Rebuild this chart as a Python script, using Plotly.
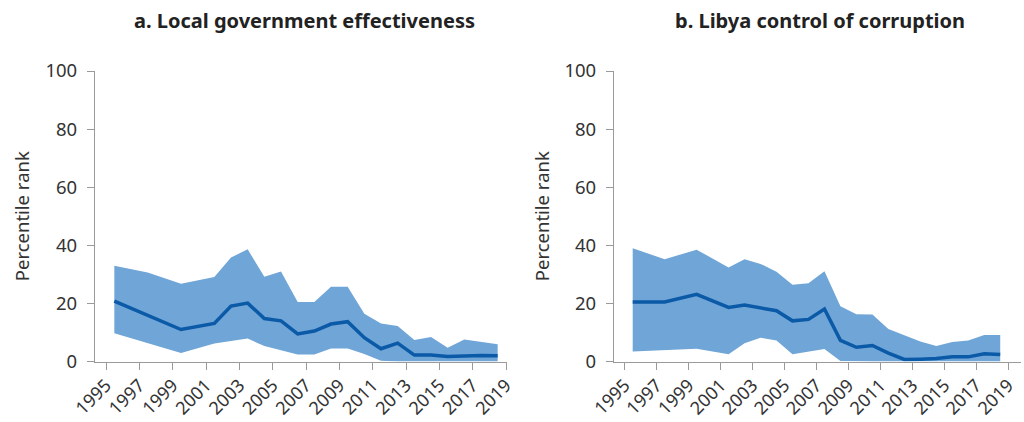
import plotly.graph_objects as go

years = [1996, 1998, 2000, 2002, 2003, 2004, 2005, 2006, 2007, 2008, 2009,
         2010, 2011, 2012, 2013, 2014, 2015, 2016, 2017, 2018, 2019]

# Panel a: Local government effectiveness (percentile rank)
gov_est = [20.8, 16.0, 11.0, 13.1, 19.1, 20.1, 14.8, 14.0, 9.5, 10.5, 12.9,
           13.7, 8.2, 4.4, 6.3, 2.2, 2.2, 1.7, 2.0, 2.1, 2.0]
gov_upper = [33.0, 30.6, 26.8, 29.1, 35.8, 38.6, 29.2, 31.0, 20.5, 20.5, 25.7,
             25.7, 16.4, 13.1, 12.2, 7.4, 8.4, 4.7, 7.6, 6.7, 5.9]
gov_lower = [9.7, 6.4, 2.9, 6.2, 7.0, 7.9, 5.3, 3.8, 2.4, 2.4, 4.5,
             4.5, 2.6, 0.3, 0.0, 0.0, 0.0, 0.0, 0.0, 0.0, 0.0]

# Panel b: Libya control of corruption (percentile rank)
cor_est = [20.5, 20.5, 23.1, 18.6, 19.4, 18.5, 17.5, 14.0, 14.5, 18.1, 7.3,
           4.9, 5.5, 2.9, 0.7, 0.8, 1.0, 1.6, 1.6, 2.7, 2.4]
cor_upper = [39.0, 35.2, 38.5, 32.4, 35.2, 33.6, 30.9, 26.4, 26.9, 31.1, 19.0,
             16.3, 16.2, 11.2, 9.0, 6.9, 5.3, 6.7, 7.2, 9.1, 9.1]
cor_lower = [3.4, 4.0, 4.4, 2.5, 6.3, 8.2, 7.2, 2.5, 3.4, 4.3, 0.2,
             0.0, 0.0, 0.0, 0.0, 0.0, 0.0, 0.0, 0.0, 0.0, 0.0]

tick_years = [1995, 1997, 1999, 2001, 2003, 2005, 2007, 2009, 2011, 2013, 2015, 2017, 2019]
y_ticks = [0, 20, 40, 60, 80, 100]

titles = ["a. Local government effectiveness", "b. Libya control of corruption"]
y_title = "Percentile rank"

BAND = "#6fa5d7"
LINE = "#0b5aa7"
AXIS = "#9a9a9a"
TEXT = "#333333"
FONT = "Noto Sans"
FS = 18.5

# full-window figure (the page's default body margin is removed below)
W, H, OFF = 1024, 422, 0


def px_x(X):
    return (X - OFF) / W


def px_y(Y):
    return (H - (Y - OFF)) / H


fig = go.Figure()

panels = [(gov_est, gov_upper, gov_lower, "x", "y"),
          (cor_est, cor_upper, cor_lower, "x2", "y2")]
for est, up, lo, xa, ya in panels:
    fig.add_trace(go.Scatter(x=years, y=lo, mode="lines", line=dict(width=0, color=BAND),
                             xaxis=xa, yaxis=ya, showlegend=False, hoverinfo="skip"))
    fig.add_trace(go.Scatter(x=years, y=up, mode="lines", line=dict(width=0, color=BAND),
                             fill="tonexty", fillcolor=BAND,
                             xaxis=xa, yaxis=ya, showlegend=False, hoverinfo="skip"))
    fig.add_trace(go.Scatter(x=years, y=est, mode="lines", line=dict(width=3.5, color=LINE),
                             xaxis=xa, yaxis=ya, showlegend=False))

ydom = [px_y(361.5), px_y(71)]
xaxis_common = dict(
    tickmode="array",
    tickvals=[t + 0.5 for t in tick_years],
    ticktext=[str(t) for t in tick_years],
    tickangle=-45,
    automargin=False,
    showline=True, linecolor=AXIS, linewidth=1.3,
    ticks="outside", ticklen=7, tickcolor=AXIS, tickwidth=1.3,
    ticklabelstandoff=-2,
    showgrid=False, zeroline=False,
    tickfont=dict(family=FONT, size=18, color=TEXT),
)
yaxis_common = dict(
    range=[0, 100],
    tickmode="array", tickvals=y_ticks,
    automargin=False,
    showline=True, linecolor=AXIS, linewidth=1.3,
    ticks="outside", ticklen=7, tickcolor=AXIS, tickwidth=1.3,
    ticklabelstandoff=6,
    showgrid=False, zeroline=False,
    tickfont=dict(family=FONT, size=FS, color=TEXT),
    domain=ydom,
)

ymid = (ydom[0] + ydom[1]) / 2
left_dom = [px_x(95), px_x(507)]
right_dom = [px_x(614), px_x(1021)]
fig.update_layout(
    width=W, height=H,
    margin=dict(l=0, r=0, t=0, b=0),
    paper_bgcolor="white", plot_bgcolor="white",
    xaxis=dict(domain=left_dom, range=[1994.84, 2019.56], anchor="y", **xaxis_common),
    yaxis=dict(anchor="x", **yaxis_common),
    xaxis2=dict(domain=right_dom, range=[1994.83, 2020.3], anchor="y2", **xaxis_common),
    yaxis2=dict(anchor="x2", **yaxis_common),
    annotations=[
        dict(text="<b>" + titles[0] + "</b>", x=sum(left_dom) / 2 + 3 / W, y=px_y(20),
             xref="paper", yref="paper", xanchor="center", yanchor="middle", showarrow=False,
             font=dict(family=FONT, size=20, color="#222222")),
        dict(text="<b>" + titles[1] + "</b>", x=sum(right_dom) / 2 + 2 / W, y=px_y(20),
             xref="paper", yref="paper", xanchor="center", yanchor="middle", showarrow=False,
             font=dict(family=FONT, size=20, color="#222222")),
        dict(text=y_title, x=px_x(21), y=ymid, textangle=-90,
             xref="paper", yref="paper", xanchor="center", yanchor="middle", showarrow=False,
             font=dict(family=FONT, size=FS, color=TEXT)),
        dict(text=y_title, x=px_x(541), y=ymid, textangle=-90,
             xref="paper", yref="paper", xanchor="center", yanchor="middle", showarrow=False,
             font=dict(family=FONT, size=FS, color=TEXT)),
    ],
)

fig.write_html("out.html", config={"displayModeBar": False},
               post_script="document.body.style.margin = '0px';")
